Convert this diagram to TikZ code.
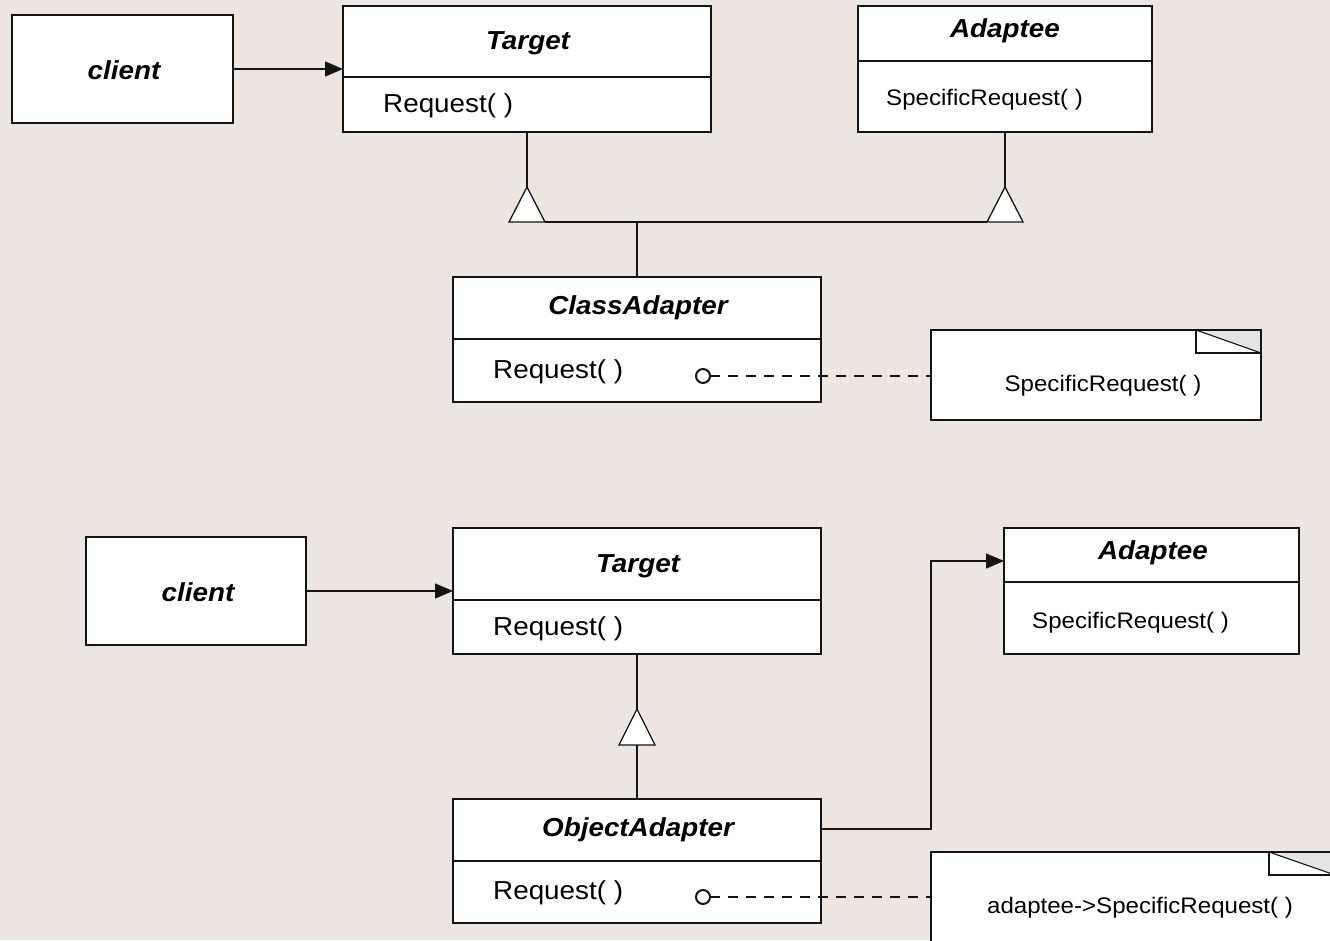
\documentclass[tikz,border=0pt]{standalone}
\usepackage{fontspec}
\setmainfont{Liberation Sans}
\usepackage{graphicx}
\usetikzlibrary{arrows.meta,calc}
\definecolor{bg}{RGB}{235,230,226}
\definecolor{foldgray}{RGB}{228,228,228}
\definecolor{ln}{RGB}{20,20,20}
\newcommand{\wx}[1]{\scalebox{1.07}[1]{#1}}
\begin{document}
\begin{tikzpicture}[x=1pt,y=-1pt,
  box/.style={draw=ln, fill=white, line width=1.3pt, anchor=north west, inner sep=0pt, outer sep=0pt, rectangle},
  ttl/.style={font=\fontsize{26}{26}\selectfont\bfseries\itshape, inner sep=0pt},
  op/.style={font=\fontsize{26}{26}\selectfont, inner sep=0pt, anchor=west},
  sop/.style={font=\fontsize{22.5}{22.5}\selectfont, inner sep=0pt},
  conn/.style={draw=ln, line width=1.3pt},
  assoc/.style={conn, -{Triangle[length=18pt,width=15pt]}},
  gen/.style={draw=ln, fill=white, line width=1.3pt, line join=miter},
  dep/.style={draw=ln, line width=1.9pt, dash pattern=on 10pt off 8pt},
  lollipop/.style={circle, draw=ln, fill=white, line width=2pt, minimum size=14pt, inner sep=0pt, outer sep=0pt},
  fold/.style={draw=ln, line width=1.1pt}
]
\clip (0,0) rectangle (1330,940);
\fill[bg] (0,0) rectangle (1330,940);

% ---------- class adapter ----------
\node[box, minimum width=221pt, minimum height=108pt] (c1) at (12,15) {};
\node[ttl] (c1t) at (124,70) {\wx{client}};

\node[box, minimum width=368pt, minimum height=126pt] (t1) at (343,6) {};
\draw[conn] ($(t1.north west)+(0,71)$) -- ($(t1.north east)+(0,71)$);
\node[ttl] (t1t) at (528,43) {\wx{Target}};
\node[op] (t1o) at (383,106) {\wx{Request( )}};

\node[box, minimum width=294pt, minimum height=126pt] (a1) at (858,6) {};
\draw[conn] ($(a1.north west)+(0,55)$) -- ($(a1.north east)+(0,55)$);
\node[ttl] (a1t) at (1005,31) {\wx{Adaptee}};
\node[sop, anchor=west] (a1o) at (886,100) {\wx{SpecificRequest( )}};

\node[box, minimum width=368pt, minimum height=125pt] (ca) at (453,277) {};
\draw[conn] ($(ca.north west)+(0,62)$) -- ($(ca.north east)+(0,62)$);
\node[ttl] (cat) at (638,308) {\wx{ClassAdapter}};
\node[op] (cao) at (493,372) {\wx{Request( )}};

\node[box, minimum width=330pt, minimum height=90pt] (n1) at (931,330) {};
\fill[foldgray] ($(n1.north east)+(-65,0)$) -- (n1.north east) -- ($(n1.north east)+(0,23)$) -- cycle;
\draw[fold] ($(n1.north east)+(-65,0)$) rectangle ($(n1.north east)+(0,23)$);
\draw[fold] ($(n1.north east)+(-65,0)$) -- ($(n1.north east)+(0,23)$);
\node[sop] (n1t) at (1103,386) {\wx{SpecificRequest( )}};

\draw[assoc] (c1.east) -- (c1.east -| t1.west);

\coordinate (g1) at (527,187);
\coordinate (g2) at (1005,187);
\draw[conn] (t1.south) -- (g1);
\draw[conn] (a1.south) -- (g2);
\draw[gen] (g1) -- ++(-18,35) -- ++(36,0) -- cycle;
\draw[gen] (g2) -- ++(-18,35) -- ++(36,0) -- cycle;
\coordinate (hb) at (637,222);
\draw[conn] ($(g1)+(18,35)$) -- ($(g2)+(-18,35)$);
\draw[conn] (hb) -- (ca.north);

\node[lollipop] (o1) at (703,376) {};
\draw[dep] (o1.east) -- (o1.east -| n1.west);

% ---------- object adapter ----------
\node[box, minimum width=220pt, minimum height=108pt] (c2) at (86,537) {};
\node[ttl] (c2t) at (198,592) {\wx{client}};

\node[box, minimum width=368pt, minimum height=126pt] (t2) at (453,528) {};
\draw[conn] ($(t2.north west)+(0,72)$) -- ($(t2.north east)+(0,72)$);
\node[ttl] (t2t) at (638,566) {\wx{Target}};
\node[op] (t2o) at (493,629) {\wx{Request( )}};

\node[box, minimum width=295pt, minimum height=126pt] (a2) at (1004,528) {};
\draw[conn] ($(a2.north west)+(0,54)$) -- ($(a2.north east)+(0,54)$);
\node[ttl] (a2t) at (1153,553) {\wx{Adaptee}};
\node[sop, anchor=west] (a2o) at (1032,623) {\wx{SpecificRequest( )}};

\node[box, minimum width=368pt, minimum height=124pt] (oa) at (453,799) {};
\draw[conn] ($(oa.north west)+(0,62)$) -- ($(oa.north east)+(0,62)$);
\node[ttl] (oat) at (638,830) {\wx{ObjectAdapter}};
\node[op] (oao) at (493,893) {\wx{Request( )}};

\node[box, minimum width=404pt, minimum height=100pt] (n2) at (931,852) {};
\fill[foldgray] ($(n2.north east)+(-66,0)$) -- (n2.north east) -- ($(n2.north east)+(0,23)$) -- cycle;
\draw[fold] ($(n2.north east)+(-66,0)$) rectangle ($(n2.north east)+(0,23)$);
\draw[fold] ($(n2.north east)+(-66,0)$) -- ($(n2.north east)+(0,23)$);
\node[sop] (n2t) at (1140,908) {\wx{adaptee->SpecificRequest( )}};

\draw[assoc] (c2.east) -- (c2.east -| t2.west);

\coordinate (g3) at (637,709);
\draw[conn] (t2.south) -- (g3);
\draw[gen] (g3) -- ++(-18,36) -- ++(36,0) -- cycle;
\draw[conn] ($(g3)+(0,36)$) -- (oa.north);

\coordinate (k1) at (931,829);
\coordinate (k2) at (1004,561);
\draw[assoc] (oa.east |- k1) -- (k1) |- (k2);

\node[lollipop] (o2) at (703,897) {};
\draw[dep] (o2.east) -- (o2.east -| n2.west);
\end{tikzpicture}
\end{document}
